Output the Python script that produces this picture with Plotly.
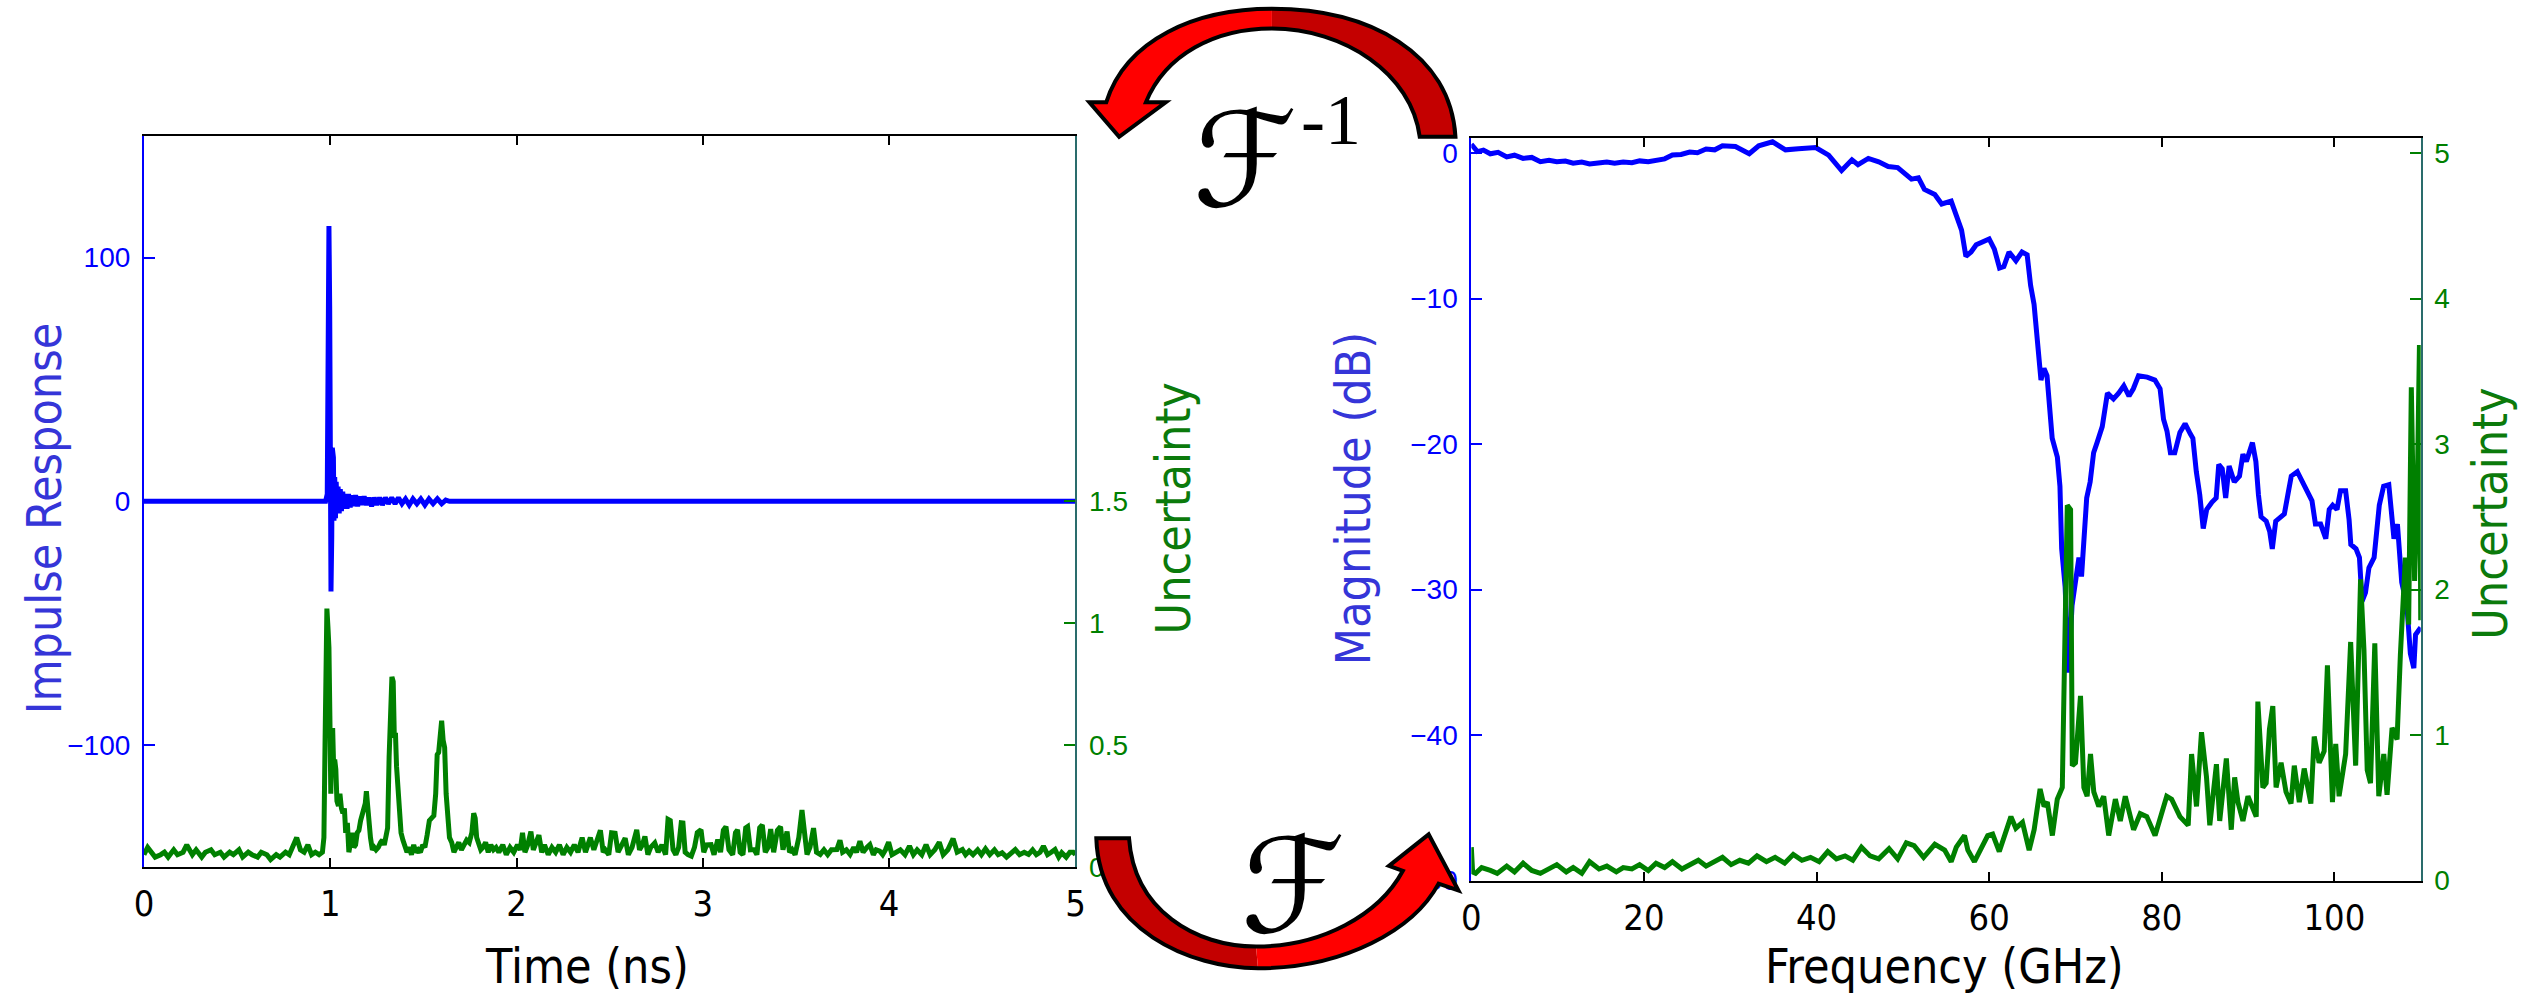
import plotly.graph_objects as go

W, H = 2522, 997

# ---------------- time domain: impulse response and its uncertainty ----------------
ir_pts = [
    (0.000, 0), (0.975, 0), (0.984, 3), (0.989, 40), (0.993, 113), (0.997, 80),
    (1.000, -5), (1.004, -37), (1.008, -15), (1.011, 22), (1.014, -12), (1.017, 18),
    (1.020, -8), (1.024, 10), (1.028, -7), (1.032, 8), (1.037, -5), (1.042, 6),
    (1.048, -5), (1.054, 5), (1.060, -4), (1.067, 4), (1.074, -3), (1.082, 3),
    (1.090, -3), (1.098, 3), (1.107, -2.5), (1.116, 2.5), (1.126, -2), (1.136, 2.5),
    (1.147, -2), (1.158, 2), (1.170, -1.5), (1.182, 2), (1.195, -1.5), (1.208, 1.5),
    (1.222, -2), (1.236, 1.5), (1.250, -1.5), (1.265, 1.5), (1.280, -1.5), (1.296, 1.5),
    (1.312, -1), (1.330, 1.5), (1.348, -1), (1.366, 1.5), (1.385, -1), (1.404, 1),
    (1.424, -1.5), (1.444, 1), (1.465, -1), (1.486, 1), (1.508, -1.5), (1.530, 1),
    (1.552, -1), (1.575, 1), (1.598, -1), (1.620, 0.5), (1.640, 0), (5.000, 0),
]

unc_time_pts = [
    (0.00, 0.05), (0.02, 0.08), (0.04, 0.06), (0.06, 0.04), (0.09, 0.05), (0.11, 0.06),
    (0.13, 0.04), (0.16, 0.07), (0.18, 0.05), (0.21, 0.06), (0.23, 0.09), (0.26, 0.05),
    (0.28, 0.07), (0.31, 0.04), (0.33, 0.06), (0.36, 0.07), (0.38, 0.05), (0.41, 0.06),
    (0.43, 0.04), (0.46, 0.06), (0.48, 0.05), (0.51, 0.07), (0.53, 0.04), (0.56, 0.06),
    (0.58, 0.05), (0.61, 0.04), (0.63, 0.06), (0.66, 0.05), (0.68, 0.03), (0.71, 0.05),
    (0.73, 0.04), (0.76, 0.06), (0.78, 0.05), (0.80, 0.08), (0.82, 0.12), (0.84, 0.07),
    (0.86, 0.06), (0.88, 0.09), (0.90, 0.05), (0.92, 0.06), (0.94, 0.05),
    (0.958, 0.06), (0.966, 0.12), (0.972, 0.50), (0.978, 0.95), (0.982, 1.06), (0.988, 0.98),
    (0.993, 0.90), (0.998, 0.62), (1.003, 0.30), (1.008, 0.52), (1.013, 0.57), (1.018, 0.42),
    (1.024, 0.44), (1.030, 0.40), (1.036, 0.27), (1.044, 0.25), (1.052, 0.30), (1.060, 0.24),
    (1.068, 0.22), (1.076, 0.24), (1.083, 0.14), (1.092, 0.18), (1.100, 0.06), (1.109, 0.10),
    (1.118, 0.14), (1.127, 0.08), (1.136, 0.09), (1.145, 0.14), (1.154, 0.15), (1.163, 0.19),
    (1.171, 0.21), (1.180, 0.24), (1.188, 0.26), (1.194, 0.31), (1.200, 0.24), (1.208, 0.18),
    (1.216, 0.12), (1.226, 0.07), (1.236, 0.08), (1.246, 0.07), (1.258, 0.08), (1.270, 0.10),
    (1.280, 0.11), (1.290, 0.09), (1.300, 0.12), (1.308, 0.16), (1.316, 0.45), (1.324, 0.74),
    (1.331, 0.78), (1.338, 0.76), (1.344, 0.53), (1.350, 0.55), (1.356, 0.41), (1.364, 0.30),
    (1.372, 0.22), (1.380, 0.14), (1.390, 0.11), (1.400, 0.09), (1.412, 0.06), (1.424, 0.08),
    (1.436, 0.05), (1.448, 0.09), (1.460, 0.06), (1.472, 0.07), (1.484, 0.06), (1.496, 0.09),
    (1.508, 0.08), (1.520, 0.13), (1.532, 0.19), (1.544, 0.20), (1.556, 0.21), (1.566, 0.30),
    (1.574, 0.46), (1.582, 0.47), (1.590, 0.56), (1.598, 0.60), (1.606, 0.52), (1.614, 0.49),
    (1.622, 0.30), (1.630, 0.24), (1.640, 0.12), (1.652, 0.10), (1.664, 0.06), (1.676, 0.08),
    (1.690, 0.10), (1.704, 0.07), (1.718, 0.09), (1.732, 0.11), (1.746, 0.10), (1.760, 0.14),
    (1.770, 0.22), (1.778, 0.20), (1.786, 0.12), (1.796, 0.09), (1.808, 0.07), (1.820, 0.08),
    (1.834, 0.10), (1.848, 0.06), (1.862, 0.09), (1.876, 0.07), (1.890, 0.08),
    (1.905, 0.06), (1.926, 0.09), (1.945, 0.05), (1.965, 0.08), (1.985, 0.06), (2.005, 0.09),
    (2.020, 0.07), (2.032, 0.14), (2.045, 0.06), (2.060, 0.09), (2.077, 0.145), (2.090, 0.07),
    (2.105, 0.10), (2.120, 0.13), (2.135, 0.06), (2.150, 0.09), (2.170, 0.05), (2.190, 0.08),
    (2.210, 0.06), (2.230, 0.09), (2.250, 0.05), (2.270, 0.08), (2.290, 0.06), (2.310, 0.09),
    (2.330, 0.06), (2.352, 0.12), (2.370, 0.06), (2.396, 0.12), (2.415, 0.07), (2.430, 0.10),
    (2.450, 0.15), (2.465, 0.06), (2.476, 0.07), (2.495, 0.05), (2.510, 0.14), (2.529, 0.138),
    (2.545, 0.06), (2.565, 0.09), (2.583, 0.118), (2.600, 0.05), (2.620, 0.08), (2.645, 0.152),
    (2.660, 0.07), (2.675, 0.09), (2.689, 0.125), (2.705, 0.05), (2.720, 0.08), (2.742, 0.098),
    (2.760, 0.06), (2.780, 0.09), (2.800, 0.05), (2.813, 0.195), (2.825, 0.19), (2.840, 0.07),
    (2.855, 0.05), (2.870, 0.08), (2.884, 0.181), (2.893, 0.18), (2.905, 0.06), (2.920, 0.05),
    (2.938, 0.044), (2.955, 0.08), (2.970, 0.14), (2.990, 0.152), (3.005, 0.06), (3.020, 0.09),
    (3.044, 0.091), (3.060, 0.05), (3.080, 0.112), (3.095, 0.06), (3.110, 0.15), (3.124, 0.165),
    (3.140, 0.07), (3.160, 0.05), (3.175, 0.14), (3.186, 0.152), (3.200, 0.06), (3.215, 0.05),
    (3.230, 0.16), (3.240, 0.165), (3.255, 0.07), (3.275, 0.071), (3.290, 0.05), (3.305, 0.16),
    (3.319, 0.172), (3.335, 0.06), (3.350, 0.08), (3.364, 0.155), (3.380, 0.06), (3.400, 0.15),
    (3.417, 0.165), (3.430, 0.07), (3.452, 0.145), (3.465, 0.06), (3.479, 0.071), (3.495, 0.05),
    (3.515, 0.12), (3.532, 0.233), (3.545, 0.12), (3.559, 0.051), (3.575, 0.08), (3.594, 0.159),
    (3.610, 0.06), (3.630, 0.051), (3.650, 0.07), (3.670, 0.05), (3.690, 0.07), (3.719, 0.071),
    (3.736, 0.109), (3.750, 0.06), (3.770, 0.07), (3.790, 0.051), (3.810, 0.08), (3.825, 0.06),
    (3.843, 0.105), (3.860, 0.06), (3.880, 0.08), (3.896, 0.091), (3.915, 0.05), (3.930, 0.07),
    (3.949, 0.065), (3.965, 0.05), (3.980, 0.07), (3.997, 0.101), (4.015, 0.05), (4.038, 0.058),
    (4.060, 0.07), (4.085, 0.05), (4.109, 0.085), (4.130, 0.05), (4.150, 0.07), (4.175, 0.05),
    (4.198, 0.091), (4.220, 0.05), (4.245, 0.07), (4.269, 0.101), (4.290, 0.05), (4.315, 0.07),
    (4.343, 0.116), (4.365, 0.06), (4.393, 0.071), (4.410, 0.05), (4.429, 0.065), (4.450, 0.05),
    (4.475, 0.07), (4.495, 0.05), (4.517, 0.074), (4.540, 0.05), (4.565, 0.07), (4.585, 0.05),
    (4.606, 0.058), (4.630, 0.04), (4.655, 0.06), (4.677, 0.071), (4.700, 0.05), (4.725, 0.06),
    (4.748, 0.051), (4.770, 0.07), (4.790, 0.05), (4.810, 0.06), (4.828, 0.085), (4.850, 0.05),
    (4.870, 0.06), (4.890, 0.071), (4.910, 0.04), (4.926, 0.058), (4.950, 0.04), (4.970, 0.06),
    (4.988, 0.06), (5.000, 0.05),
]

# ---------------- frequency domain: magnitude (dB) and its uncertainty ----------------
mag_pts = [
    (0.0, 0.6), (0.7, 0.1), (1.4, 0.2), (2.2, -0.05), (3.1, 0.05), (4.1, -0.27),
    (5.0, -0.15), (6.0, -0.37), (7.0, -0.3), (8.0, -0.6), (9.0, -0.5), (9.9, -0.6),
    (10.9, -0.55), (11.8, -0.7), (12.8, -0.62), (13.7, -0.75), (14.7, -0.68), (15.7, -0.62),
    (16.6, -0.7), (17.6, -0.62), (18.6, -0.66), (19.5, -0.54), (20.5, -0.6), (21.4, -0.48),
    (22.4, -0.4), (23.3, -0.14), (24.3, -0.1), (25.3, 0.07), (26.2, 0.02), (27.2, 0.28),
    (28.2, 0.22), (29.1, 0.5), (30.6, 0.45), (32.2, -0.05), (33.3, 0.5), (34.9, 0.77),
    (36.4, 0.22), (37.9, 0.3), (39.9, 0.38), (41.4, -0.14), (42.9, -1.2), (44.1, -0.47),
    (44.8, -0.8), (46.0, -0.37), (47.2, -0.6), (48.3, -0.93), (49.4, -1.0), (51.0, -1.79),
    (51.8, -1.7), (52.5, -2.5), (53.7, -2.85), (54.5, -3.5),
    (55.6, -3.3), (56.2, -4.3), (56.8, -5.3), (57.3, -7.1), (57.9, -6.8), (58.5, -6.3),
    (59.4, -6.1), (60.0, -5.9), (60.6, -6.6), (61.2, -7.9), (61.7, -7.8), (62.3, -6.8),
    (63.1, -7.4), (63.8, -6.8), (64.4, -7.0), (64.8, -9.1), (65.2, -10.4), (65.6, -13.0),
    (66.0, -15.6), (66.35, -14.8), (66.7, -15.3), (67.3, -19.6), (67.9, -20.9), (68.2, -22.9),
    (68.4, -27.2), (68.8, -29.8), (69.2, -35.7), (69.6, -31.1), (70.0, -29.1), (70.4, -27.8),
    (70.7, -29.1), (71.0, -26.2), (71.3, -23.7), (71.7, -22.6), (72.1, -20.6), (72.5, -19.9),
    (73.1, -18.8), (73.7, -16.5), (74.4, -16.9), (75.0, -16.5), (75.6, -16.0), (76.2, -16.7),
    (76.7, -16.2), (77.3, -15.3), (78.3, -15.4), (79.2, -15.6), (79.8, -16.2), (80.2, -18.3),
    (80.6, -19.1), (81.0, -20.6), (81.5, -20.6), (82.1, -19.2), (82.7, -18.6), (83.3, -19.3),
    (83.6, -19.6), (84.0, -21.9), (84.4, -23.5), (84.8, -25.8), (85.2, -24.5), (85.8, -24.0),
    (86.3, -23.7), (86.6, -21.4), (87.0, -21.7), (87.4, -23.7), (87.8, -21.5), (88.4, -22.6),
    (89.0, -22.2), (89.4, -20.7), (89.8, -21.2), (90.5, -19.9), (90.9, -21.2), (91.2, -23.5),
    (91.5, -25.0), (92.1, -25.3), (92.5, -26.0), (92.8, -27.2), (93.2, -25.3), (93.8, -25.0),
    (94.2, -24.8), (94.6, -23.5), (95.0, -22.2), (95.7, -21.9), (96.5, -22.9), (97.4, -23.9),
    (97.8, -25.5), (98.4, -25.5), (99.0, -26.5), (99.4, -24.5), (99.8, -24.2), (100.3, -24.5),
    (100.7, -23.2), (101.3, -23.2), (101.7, -25.2), (101.9, -26.9), (102.5, -27.2), (102.9, -27.8),
    (103.2, -30.8), (103.6, -30.2), (104.0, -28.5), (104.6, -27.8), (105.2, -24.2), (105.7, -22.9),
    (106.3, -22.8), (106.9, -26.5), (107.3, -25.5), (107.8, -29.5), (108.4, -31.1), (108.8, -34.4),
    (109.2, -35.4), (109.4, -33.1), (110.0, -32.6),
]

unc_freq_pts = [
    (0.0, 0.23), (0.15, 0.06), (0.5, 0.05), (1.2, 0.09), (2.2, 0.07), (3.0, 0.05),
    (4.1, 0.10), (5.0, 0.06), (6.0, 0.12), (7.0, 0.07), (8.0, 0.05), (9.0, 0.08),
    (9.9, 0.11), (11.0, 0.06), (11.8, 0.09), (12.8, 0.05), (13.7, 0.13), (14.8, 0.08),
    (15.7, 0.10), (16.8, 0.06), (17.6, 0.09), (18.6, 0.08), (19.5, 0.11), (20.5, 0.07),
    (21.4, 0.12), (22.4, 0.09), (23.3, 0.13), (24.4, 0.08), (25.3, 0.11), (26.3, 0.14),
    (27.2, 0.10), (28.2, 0.13), (29.1, 0.16), (30.1, 0.11), (31.1, 0.14), (32.1, 0.12),
    (33.1, 0.17), (34.2, 0.13), (35.2, 0.16), (36.3, 0.12), (37.3, 0.18), (38.3, 0.14),
    (39.3, 0.16), (40.3, 0.13), (41.3, 0.20), (42.3, 0.15), (43.3, 0.17), (44.2, 0.14),
    (45.2, 0.23), (46.2, 0.17), (47.2, 0.15), (48.4, 0.22), (49.4, 0.15), (50.4, 0.26),
    (51.3, 0.24), (52.4, 0.16), (53.7, 0.25),
    (54.84, 0.21), (55.6, 0.13), (56.19, 0.23), (57.14, 0.31), (57.53, 0.21), (58.29, 0.13),
    (59.83, 0.31), (60.4, 0.32), (61.17, 0.20), (62.52, 0.44), (63.09, 0.36), (63.86, 0.40),
    (64.63, 0.21), (65.21, 0.35), (65.9, 0.63), (66.36, 0.51), (66.74, 0.54), (67.32, 0.31),
    (67.89, 0.56), (68.47, 0.64), (69.05, 2.58), (69.43, 2.55), (69.63, 0.79), (70.0, 0.81),
    (70.58, 1.27), (70.97, 0.64), (71.35, 0.58), (71.74, 0.87), (72.12, 0.61), (72.7, 0.51),
    (73.27, 0.58), (73.85, 0.31), (74.62, 0.56), (75.19, 0.41), (75.77, 0.58), (76.73, 0.35),
    (77.5, 0.46), (78.26, 0.44), (79.22, 0.31), (80.57, 0.58), (81.14, 0.56), (82.1, 0.44),
    (83.06, 0.38), (83.45, 0.87), (84.02, 0.51), (84.6, 1.02), (85.18, 0.71), (85.56, 0.38),
    (86.33, 0.80), (86.71, 0.41), (87.48, 0.84), (88.05, 0.35), (88.44, 0.71), (88.82, 0.54),
    (89.4, 0.41), (89.98, 0.58), (90.94, 0.44), (91.13, 1.23), (91.71, 0.64), (92.09, 0.67),
    (92.47, 1.04), (92.86, 1.20), (93.24, 0.64), (93.82, 0.81), (94.39, 0.61), (94.97, 0.53),
    (95.35, 0.79), (95.93, 0.54), (96.5, 0.77), (97.27, 0.53), (97.66, 0.99), (98.23, 0.81),
    (98.81, 0.89), (99.19, 1.48), (99.77, 0.54), (100.15, 0.94), (100.54, 0.58), (101.3, 0.87),
    (101.88, 1.64), (102.46, 0.79), (103.03, 2.07), (103.42, 1.59), (103.8, 0.76), (104.18, 0.67),
    (104.68, 1.63), (105.14, 0.58), (105.72, 0.87), (106.1, 0.59), (106.68, 1.05), (107.26, 0.97),
    (107.64, 1.55), (108.22, 2.22), (108.6, 1.76), (108.91, 3.39), (109.29, 2.06), (109.6, 2.68),
    (109.85, 3.68), (110.0, 1.79),
]

# axis ticks
time_ticks = [0, 1, 2, 3, 4, 5]
ir_ticks = [-100, 0, 100]
unc_time_ticks = [0, 0.5, 1, 1.5]
freq_ticks = [0, 20, 40, 60, 80, 100]
mag_ticks = [-50, -40, -30, -20, -10, 0]
unc_freq_ticks = [0, 1, 2, 3, 4, 5]

BLUE = "#0000ff"
GREEN = "#008000"
TITLE_BLUE = "#3535d8"
TITLE_GREEN = "#0b7a0b"
AXIS_TEAL = "#2a6c6c"
NARROW = "DejaVu Sans Condensed, DejaVu Sans, sans-serif"
TICKFONT = "Liberation Sans, Arial, sans-serif"


def unzip(pts):
    return [p[0] for p in pts], [p[1] for p in pts]


def px_x(x):
    return x / W


def px_y(y):
    return 1 - y / H


fig = go.Figure()

tx, ty = unzip(ir_pts)
fig.add_trace(go.Scatter(x=tx, y=ty, mode="lines", line=dict(color=BLUE, width=5),
                         xaxis="x", yaxis="y", showlegend=False))
ux, uy = unzip(unc_time_pts)
fig.add_trace(go.Scatter(x=ux, y=uy, mode="lines", line=dict(color=GREEN, width=5),
                         xaxis="x", yaxis="y2", showlegend=False))
fx, fy = unzip(mag_pts)
fig.add_trace(go.Scatter(x=fx, y=fy, mode="lines", line=dict(color=BLUE, width=5),
                         xaxis="x2", yaxis="y3", showlegend=False))
gx, gy = unzip(unc_freq_pts)
fig.add_trace(go.Scatter(x=gx, y=gy, mode="lines", line=dict(color=GREEN, width=5),
                         xaxis="x2", yaxis="y4", showlegend=False))

# plot rectangles in pixels (left, right, top, bottom)
L1, R1, T1, B1 = 135, 1074, 138, 881
L2, R2, T2, B2 = 1473, 2430, 140, 895

xcommon = dict(ticks="inside", ticklen=9, tickwidth=1.5, tickcolor="black",
               showline=True, linecolor="black", linewidth=2, mirror="ticks",
               showgrid=False, zeroline=False,
               tickfont=dict(family=NARROW, size=36, color="black"), ticklabelstandoff=4)
ycommon = dict(ticks="inside", ticklen=11, tickwidth=1.5, showline=True, linewidth=2,
               showgrid=False, zeroline=False, ticklabelstandoff=6)

fig.update_layout(
    width=W, height=H, margin=dict(l=0, r=0, t=0, b=0),
    paper_bgcolor="white", plot_bgcolor="white", showlegend=False,
    xaxis=dict(domain=[px_x(L1), px_x(R1)], anchor="y", range=[0, 5],
               tickvals=time_ticks, **xcommon),
    yaxis=dict(domain=[px_y(B1), px_y(T1)], anchor="x", range=[-150, 150],
               tickvals=ir_ticks, linecolor=BLUE, tickcolor=BLUE,
               tickfont=dict(family=TICKFONT, size=28, color=BLUE), **ycommon),
    yaxis2=dict(overlaying="y", side="right", anchor="x", range=[0, 3],
                tickvals=unc_time_ticks, ticktext=["0", "0.5", "1", "1.5"],
                linecolor=AXIS_TEAL, tickcolor=GREEN,
                tickfont=dict(family=TICKFONT, size=28, color=GREEN), **ycommon),
    xaxis2=dict(domain=[px_x(L2), px_x(R2)], anchor="y3", range=[0, 110],
                tickvals=freq_ticks, **xcommon),
    yaxis3=dict(domain=[px_y(B2), px_y(T2)], anchor="x2", range=[-50, 1.05],
                tickvals=mag_ticks, linecolor=BLUE, tickcolor=BLUE,
                tickfont=dict(family=TICKFONT, size=28, color=BLUE), **ycommon),
    yaxis4=dict(overlaying="y3", side="right", anchor="x2", range=[0, 5.105],
                tickvals=unc_freq_ticks, linecolor=AXIS_TEAL, tickcolor=GREEN,
                tickfont=dict(family=TICKFONT, size=28, color=GREEN), **ycommon),
)


# ---------------- curved transform arrows ----------------
def P(pt):
    return f"{px_x(pt[0]):.5f},{px_y(pt[1]):.5f}"


def cubic(seg):
    return f"C{P(seg[1])} {P(seg[2])} {P(seg[3])}"


def rev(seg):
    return [seg[3], seg[2], seg[1], seg[0]]


def add_path(d, fill=None, line=None):
    fig.add_shape(type="path", path=d, xref="paper", yref="paper", layer="above",
                  fillcolor=fill if fill else "rgba(0,0,0,0)",
                  line=dict(color=line if line else "rgba(0,0,0,0)", width=4 if line else 0))


RED = "#ff0000"
DARK_RED = "#c40000"

# inverse transform arrow (top, pointing to the time-domain plot)
t_lw, t_tip, t_rw = (1088, 104), (1118, 139), (1165, 104)
t_o1 = [(1105, 104), (1125, 40), (1195, 9), (1272, 9)]
t_o2 = [(1272, 9), (1372, 9), (1452, 55), (1457, 139)]
t_i1 = [(1145, 104), (1165, 55), (1215, 29), (1272, 29)]
t_i2 = [(1272, 29), (1345, 29), (1413, 75), (1421, 139)]

add_path(f"M{P(t_lw)} L{P(t_o1[0])} {cubic(t_o1)} L{P(t_i1[3])} {cubic(rev(t_i1))} "
         f"L{P(t_rw)} L{P(t_tip)} Z", fill=RED)
add_path(f"M{P(t_o2[0])} {cubic(t_o2)} L{P(t_i2[3])} {cubic(rev(t_i2))} Z", fill=DARK_RED)
add_path(f"M{P(t_lw)} L{P(t_o1[0])} {cubic(t_o1)} {cubic(t_o2)} L{P(t_i2[3])} "
         f"{cubic(rev(t_i2))} {cubic(rev(t_i1))} L{P(t_rw)} L{P(t_tip)} Z", line="black")

# forward transform arrow (bottom, pointing to the frequency-domain plot)
b_rw, b_tip, b_lw = (1460, 905), (1430, 848), (1390, 880)
b_o1 = [(1095, 852), (1098, 945), (1190, 984), (1258, 984)]
b_o2 = [(1258, 984), (1345, 984), (1415, 945), (1440, 898)]
b_i1 = [(1128, 852), (1133, 925), (1195, 962), (1256, 962)]
b_i2 = [(1256, 962), (1322, 962), (1380, 930), (1404, 885)]

add_path(f"M{P(b_o1[0])} {cubic(b_o1)} L{P(b_i1[3])} {cubic(rev(b_i1))} Z", fill=DARK_RED)
add_path(f"M{P(b_o2[0])} {cubic(b_o2)} L{P(b_rw)} L{P(b_tip)} L{P(b_lw)} "
         f"L{P(b_i2[3])} {cubic(rev(b_i2))} Z", fill=RED)
add_path(f"M{P(b_o1[0])} {cubic(b_o1)} {cubic(b_o2)} L{P(b_rw)} L{P(b_tip)} L{P(b_lw)} "
         f"L{P(b_i2[3])} {cubic(rev(b_i2))} {cubic(rev(b_i1))} Z", line="black")


# ---------------- text ----------------
def label(text, x, y, size, color, family=NARROW, angle=0):
    fig.add_annotation(text=text, x=px_x(x), y=px_y(y), xref="paper", yref="paper",
                       xanchor="center", yanchor="middle", showarrow=False,
                       textangle=angle, font=dict(family=family, size=size, color=color))


label("Impulse Response", 34, 527, 48, TITLE_BLUE, angle=-90)
label("Uncertainty", 1172, 517, 48, TITLE_GREEN, angle=-90)
label("Magnitude (dB)", 1354, 507, 48, TITLE_BLUE, angle=-90)
label("Uncertainty", 2499, 522, 48, TITLE_GREEN, angle=-90)
label("Time (ns)", 582, 982, 48, "black")
label("Frequency (GHz)", 1950, 982, 48, "black")

SCRIPT = "DejaVu Serif, DejaVu Sans, serif"
label("<i>ℱ</i>", 1245, 163, 132, "black", family=SCRIPT)
label("-1", 1332, 122, 72, "black", family="Liberation Serif, serif")
label("<i>ℱ</i>", 1293, 900, 132, "black", family=SCRIPT)

fig.write_html("out.html")
